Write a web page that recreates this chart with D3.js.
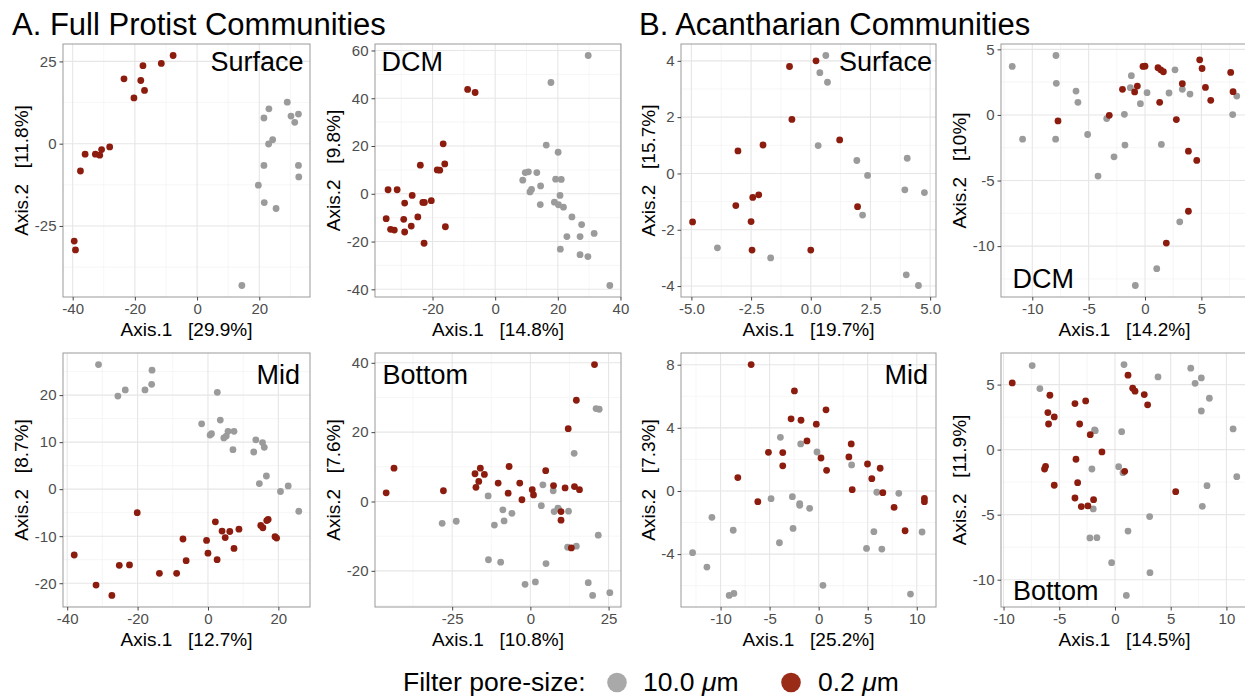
<!DOCTYPE html>
<html>
<head>
<meta charset="utf-8">
<script src="https://cdn.jsdelivr.net/npm/d3@7"></script>
<style>
  html, body { margin: 0; padding: 0; background: #ffffff; }
  svg { display: block; font-family: "Liberation Sans", Arial, Helvetica, sans-serif; }
  text { white-space: pre; }
</style>
</head>
<body>
<svg id="chart" width="1245" height="698"></svg>
<script>
// ---- PCoA coordinates: [Axis.1, Axis.2] per sample ----
// A. Full protist communities
const protSurface10 = [[29.0,12.6],[23.1,10.6],[32.6,9.0],[30.2,8.4],[21.5,7.8],[31.4,6.5],[24.3,1.2],[23.0,-0.1],[21.5,-6.6],[32.6,-6.6],[32.7,-10.1],[19.7,-12.6],[21.6,-17.9],[25.4,-19.7],[14.4,-43.1]];
const protSurface02 = [[-7.7,26.8],[-11.5,24.4],[-17.4,23.7],[-18.1,19.2],[-23.5,19.7],[-16.9,16.2],[-20.3,13.9],[-28.1,-1.0],[-30.7,-1.8],[-31.3,-3.5],[-32.7,-3.2],[-36.0,-3.2],[-37.5,-8.3],[-39.5,-29.6],[-39.1,-32.3]];

const protDCM10 = [[29.7,57.9],[17.8,46.6],[16.3,20.4],[20.1,17.4],[9.6,8.9],[10.6,9.2],[13.3,8.9],[8.8,5.7],[19.3,6.1],[21.1,6.0],[11.6,1.8],[11.1,0.8],[14.5,3.3],[20.7,-0.7],[14.4,-4.5],[18.9,-3.5],[20.2,-4.6],[21.8,-5.6],[24.5,-9.7],[27.6,-12.9],[31.6,-16.6],[22.9,-17.9],[27.1,-17.9],[20.8,-23.2],[27.1,-25.5],[29.6,-26.3],[36.6,-38.4]];
const protDCM02 = [[-8.8,43.7],[-6.4,42.4],[-16.6,20.9],[-23.9,12.0],[-16.1,12.5],[-18.5,10.0],[-17.7,9.9],[-34.2,1.7],[-31.3,1.7],[-26.5,-0.7],[-20.4,-2.9],[-23.1,-3.6],[-22.6,-3.6],[-28.9,-3.9],[-24.7,-9.7],[-34.8,-10.4],[-29.2,-10.7],[-26.8,-13.5],[-15.9,-13.8],[-33.4,-14.9],[-32.2,-15.2],[-28.9,-16.0],[-22.7,-20.7]];

const protMid10 = [[-31.1,26.5],[-15.9,25.3],[-16.0,22.3],[-23.5,21.1],[-17.9,21.1],[-25.6,19.8],[2.65,20.6],[3.5,14.7],[-1.8,13.9],[1.0,11.8],[0.6,11.5],[5.7,12.3],[7.4,12.3],[5.2,11.3],[4.5,10.9],[7.1,8.4],[13.6,10.5],[15.5,9.9],[16.0,8.9],[13.0,7.9],[16.6,2.8],[14.6,1.2],[22.8,0.7],[20.6,-0.5],[25.8,-4.7]];
const protMid02 = [[-20.1,-5.0],[2.1,-6.95],[4.0,-8.9],[6.2,-9.0],[8.8,-8.5],[17.1,-6.45],[16.7,-6.67],[15.0,-7.7],[15.6,-8.2],[4.9,-10.3],[-0.4,-10.9],[-7.1,-10.6],[19.05,-10.1],[19.5,-10.4],[0.0,-13.6],[7.4,-12.6],[-6.2,-15.2],[2.6,-15.0],[-38.0,-14.0],[-25.2,-16.2],[-22.3,-16.1],[-13.8,-17.9],[-8.9,-17.9],[-31.8,-20.4],[-27.3,-22.6]];

const protBottom10 = [[21.0,26.8],[22.0,26.6],[14.0,13.9],[4.0,4.8],[7.3,3.1],[-13.5,1.6],[3.5,-1.2],[-8.8,-2.4],[-5.9,-3.4],[-8.4,-5.6],[-11.5,-6.8],[-28.2,-6.3],[-23.7,-5.7],[7.6,-2.9],[8.8,-1.9],[9.0,-2.1],[12.2,-2.8],[11.9,-13.2],[14.7,-12.9],[21.7,-9.7],[-13.4,-16.8],[-9.5,-17.5],[5.0,-17.9],[1.6,-23.2],[-1.7,-23.9],[18.5,-23.4],[19.9,-27.1],[25.4,-26.3]];
const protBottom02 = [[20.5,39.5],[14.7,29.2],[12.1,21.0],[-43.6,9.6],[-46.1,2.5],[-27.8,3.1],[-16.0,9.6],[-17.7,8.0],[-14.7,7.8],[-16.5,5.8],[-17.4,4.1],[-6.8,10.1],[-10.3,5.3],[-7.1,2.4],[-3.4,5.3],[-2.7,0.5],[0.6,3.4],[1.0,1.9],[4.9,8.9],[7.4,4.6],[11.1,3.9],[14.1,4.3],[15.7,3.4],[9.8,-2.9],[9.8,-5.4],[13.1,-13.4]];

// B. Acantharian communities
const acanSurface10 = [[0.63,4.19],[0.38,3.58],[0.7,3.24],[0.31,0.99],[1.93,0.46],[4.04,0.54],[2.38,-0.07],[3.94,-0.58],[4.76,-0.68],[2.17,-1.48],[-3.91,-2.64],[-1.68,-3.0],[4.0,-3.6],[4.51,-3.98]];
const acanSurface02 = [[0.22,4.0],[-0.89,3.8],[-0.79,1.92],[1.21,1.19],[-2.0,1.01],[-3.05,0.8],[-2.18,-0.76],[-2.43,-0.85],[-3.14,-1.14],[1.96,-1.18],[-4.95,-1.72],[-2.5,-1.71],[-2.46,-2.72],[0.0,-2.72]];

const acanDCM10 = [[-11.78,3.7],[-7.9,4.53],[-7.87,2.41],[-1.21,2.99],[2.66,3.44],[-1.3,2.08],[-6.12,1.82],[-5.95,0.96],[0.18,1.7],[2.13,1.67],[3.31,1.95],[3.99,1.59],[-0.41,0.86],[8.14,1.44],[-1.83,0.05],[-3.4,-0.28],[7.78,0.03],[-10.86,-1.85],[-7.93,-1.85],[-5.09,-1.49],[-1.78,-2.3],[1.45,-2.25],[-2.75,-3.19],[-4.17,-4.66],[3.08,-8.15],[1.04,-11.72],[-0.86,-13.0]];
const acanDCM02 = [[4.85,4.2],[0.0,3.72],[-0.18,3.7],[1.15,3.6],[1.39,3.44],[1.63,3.29],[5.06,3.54],[7.6,3.24],[3.31,2.38],[-0.68,2.2],[5.36,2.1],[-2.0,1.95],[-0.92,1.75],[7.81,1.77],[5.83,1.11],[1.3,0.96],[-3.17,-0.03],[-7.72,-0.46],[2.78,-0.35],[3.85,-2.76],[4.59,-3.47],[3.85,-7.34],[1.89,-9.77]];

const acanMid10 = [[-3.9,3.4],[-1.83,2.98],[-0.17,2.47],[3.36,1.65],[-4.85,-0.49],[-2.68,-0.36],[-1.93,-0.8],[-1.93,-0.91],[-0.92,-1.1],[-10.88,-1.67],[-8.71,-2.49],[-2.61,-2.37],[-4.0,-3.28],[5.93,-0.08],[8.17,-0.15],[5.63,-2.58],[10.54,-2.6],[4.88,-3.64],[6.44,-3.68],[-12.85,-3.91],[-11.39,-4.82],[-9.12,-6.62],[-8.64,-6.49],[0.44,-5.98],[9.36,-6.53]];
const acanMid02 = [[-6.88,8.01],[-2.47,6.34],[-2.81,4.57],[-1.8,4.48],[0.75,5.14],[-0.24,4.23],[-1.19,3.17],[-5.12,2.45],[-3.66,2.43],[-3.66,1.59],[0.24,2.09],[0.81,1.31],[3.32,2.98],[3.08,2.16],[4.98,1.71],[6.27,1.44],[5.42,0.78],[3.42,0.08],[6.54,-0.11],[-8.24,0.85],[-6.2,-0.68],[10.78,-0.47],[10.78,-0.68],[7.69,-1.04],[8.81,-2.52]];

const acanBottom10 = [[-7.43,6.46],[-6.74,4.69],[0.81,6.54],[3.86,5.59],[6.8,6.26],[7.75,5.51],[7.19,5.1],[8.47,3.95],[7.75,2.97],[10.6,1.59],[10.93,-2.08],[-1.83,1.51],[-1.77,1.46],[0.6,1.38],[-2.07,-1.49],[0.33,-1.31],[0.72,-1.77],[8.26,-2.77],[7.84,-4.36],[-1.95,-4.56],[3.11,-5.15],[1.17,-6.26],[-2.25,-6.79],[-1.62,-6.77],[-0.3,-8.69],[3.14,-9.46],[1.02,-11.21]];
const acanBottom02 = [[-9.22,5.13],[1.17,5.72],[-5.84,4.18],[1.59,4.72],[1.8,4.49],[2.63,4.23],[2.93,3.44],[-2.63,3.74],[-3.59,3.54],[-6.02,2.85],[-5.45,2.51],[-5.96,1.97],[-3.17,1.97],[-2.22,1.15],[-1.17,-0.18],[-3.5,-0.74],[-6.23,-1.28],[-6.32,-1.49],[0.87,-1.67],[-5.45,-2.74],[-3.35,-2.54],[-3.59,-3.72],[-1.92,-3.85],[-3.02,-4.38],[-2.43,-4.33],[5.45,-3.23]];

// ---- axis breaks ----
const protSurfaceXTicks = [-40, -20, 0, 20];
const protSurfaceYTicks = [-25, 0, 25];
const protDCMXTicks = [-20, 0, 20, 40];
const protDCMYTicks = [-40, -20, 0, 20, 40, 60];
const protMidXTicks = [-40, -20, 0, 20];
const protMidYTicks = [-20, -10, 0, 10, 20];
const protBottomXTicks = [-25, 0, 25];
const protBottomYTicks = [-20, 0, 20, 40];
const acanSurfaceXTicks = [-5, -2.5, 0, 2.5, 5];
const acanSurfaceYTicks = [-4, -2, 0, 2, 4];
const acanDCMXTicks = [-10, -5, 0, 5];
const acanDCMYTicks = [-10, -5, 0, 5];
const acanMidXTicks = [-10, -5, 0, 5, 10];
const acanMidYTicks = [-4, 0, 4, 8];
const acanBottomXTicks = [-10, -5, 0, 5, 10];
const acanBottomYTicks = [-10, -5, 0, 5];

// ---- axis titles (variance explained) ----
const xTitles = ["Axis.1   [29.9%]", "Axis.1   [14.8%]", "Axis.1   [19.7%]", "Axis.1   [14.2%]",
                 "Axis.1   [12.7%]", "Axis.1   [10.8%]", "Axis.1   [25.2%]", "Axis.1   [14.5%]"];
const yTitles = ["Axis.2   [11.8%]", "Axis.2   [9.8%]", "Axis.2   [15.7%]", "Axis.2   [10%]",
                 "Axis.2   [8.7%]", "Axis.2   [7.6%]", "Axis.2   [7.3%]", "Axis.2   [11.9%]"];
const depthLabels = ["Surface", "DCM", "Surface", "DCM", "Mid", "Bottom", "Mid", "Bottom"];
const sectionTitles = ["A. Full Protist Communities", "B. Acantharian Communities"];
const legendTitle = "Filter pore-size:";
const poreSizes = ["10.0", "0.2"];

// ---- styling ----
const COL_LARGE = "#9b9b9b", COL_SMALL = "#8c1c0e";
const LEG_LARGE = "#a9a9a9", LEG_SMALL = "#9a2b17";

const colLeft = [63, 375, 681, 1001], colRight = [310, 621, 936, 1248];
const rowTop = [44, 353], rowBottom = [297, 607];

// label placement: corner + inset
const labelPlace = [
  {corner: "tr", dx: -6.5, dy: 27}, {corner: "tl", dx: 6.5, dy: 27},
  {corner: "tr", dx: -4, dy: 27},   {corner: "bl", dx: 11.5, dy: -9.5},
  {corner: "tr", dx: -10, dy: 30.5},{corner: "tl", dx: 7.5, dy: 30.5},
  {corner: "tr", dx: -8, dy: 30.5}, {corner: "bl", dx: 12, dy: -7.5}
];

const panels = [
  {large: protSurface10, small: protSurface02, xt: protSurfaceXTicks, yt: protSurfaceYTicks},
  {large: protDCM10, small: protDCM02, xt: protDCMXTicks, yt: protDCMYTicks},
  {large: acanSurface10, small: acanSurface02, xt: acanSurfaceXTicks, yt: acanSurfaceYTicks},
  {large: acanDCM10, small: acanDCM02, xt: acanDCMXTicks, yt: acanDCMYTicks},
  {large: protMid10, small: protMid02, xt: protMidXTicks, yt: protMidYTicks},
  {large: protBottom10, small: protBottom02, xt: protBottomXTicks, yt: protBottomYTicks},
  {large: acanMid10, small: acanMid02, xt: acanMidXTicks, yt: acanMidYTicks},
  {large: acanBottom10, small: acanBottom02, xt: acanBottomXTicks, yt: acanBottomYTicks}
];

const svg = d3.select("#chart");

// ggplot-like 5% expansion of the data range
function expanded(vals) {
  const [lo, hi] = d3.extent(vals);
  const pad = (hi - lo) * 0.05;
  return [lo - pad, hi + pad];
}
function fmtFor(ticks) {
  const allInt = ticks.every(t => Number.isInteger(t));
  return v => allInt ? String(v) : v.toFixed(1);
}
function minorBreaks(ticks, domain) {
  const step = ticks[1] - ticks[0];
  const out = [];
  for (let v = ticks[0] - step / 2; v <= ticks[ticks.length - 1] + step / 2 + 1e-9; v += step) {
    if (v >= domain[0] && v <= domain[1]) out.push(v);
  }
  return out;
}

panels.forEach((p, i) => {
  const col = i % 4, row = Math.floor(i / 4);
  const L = colLeft[col], R = colRight[col], T = rowTop[row], B = rowBottom[row];
  const all = p.large.concat(p.small);
  const x = d3.scaleLinear().domain(expanded(all.map(d => d[0]))).range([L, R]);
  const y = d3.scaleLinear().domain(expanded(all.map(d => d[1]))).range([B, T]);

  const g = svg.append("g");
  const clipId = "clip" + i;
  g.append("clipPath").attr("id", clipId)
    .append("rect").attr("x", L).attr("y", T).attr("width", R - L).attr("height", B - T);

  const grid = g.append("g").attr("clip-path", `url(#${clipId})`);
  // minor grid
  grid.selectAll(".mx").data(minorBreaks(p.xt, x.domain())).join("line")
    .attr("x1", d => x(d)).attr("x2", d => x(d)).attr("y1", T).attr("y2", B)
    .attr("stroke", "#f0f0f0").attr("stroke-width", 0.6);
  grid.selectAll(".my").data(minorBreaks(p.yt, y.domain())).join("line")
    .attr("y1", d => y(d)).attr("y2", d => y(d)).attr("x1", L).attr("x2", R)
    .attr("stroke", "#f0f0f0").attr("stroke-width", 0.6);
  // major grid
  grid.selectAll(".Mx").data(p.xt).join("line")
    .attr("x1", d => x(d)).attr("x2", d => x(d)).attr("y1", T).attr("y2", B)
    .attr("stroke", "#e6e6e6").attr("stroke-width", 1.1);
  grid.selectAll(".My").data(p.yt).join("line")
    .attr("y1", d => y(d)).attr("y2", d => y(d)).attr("x1", L).attr("x2", R)
    .attr("stroke", "#e6e6e6").attr("stroke-width", 1.1);

  // points: 10 µm fraction, then 0.2 µm fraction
  const pts = g.append("g").attr("clip-path", `url(#${clipId})`);
  pts.selectAll(".lg").data(p.large).join("circle")
    .attr("cx", d => x(d[0])).attr("cy", d => y(d[1])).attr("r", 3.4).attr("fill", COL_LARGE);
  pts.selectAll(".sm").data(p.small).join("circle")
    .attr("cx", d => x(d[0])).attr("cy", d => y(d[1])).attr("r", 3.4).attr("fill", COL_SMALL);

  // panel border
  g.append("rect").attr("x", L).attr("y", T).attr("width", R - L).attr("height", B - T)
    .attr("fill", "none").attr("stroke", "#999999").attr("stroke-width", 1);

  // axes
  const fx = fmtFor(p.xt), fy = fmtFor(p.yt);
  const xa = g.append("g").attr("transform", `translate(0,${B})`)
    .call(d3.axisBottom(x).tickValues(p.xt).tickFormat(fx).tickSize(3.5).tickPadding(3));
  const ya = g.append("g").attr("transform", `translate(${L},0)`)
    .call(d3.axisLeft(y).tickValues(p.yt).tickFormat(fy).tickSize(3.5).tickPadding(3));
  [xa, ya].forEach(a => {
    a.select(".domain").remove();
    a.selectAll(".tick line").attr("stroke", "#444");
    a.selectAll(".tick text").attr("fill", "#4d4d4d").style("font-size", "15px")
      .style("font-family", '"Liberation Sans", Arial, Helvetica, sans-serif');
  });

  // axis titles
  g.append("text").attr("x", (L + R) / 2).attr("y", B + 39)
    .attr("text-anchor", "middle").style("font-size", "19px").attr("fill", "#000")
    .text(xTitles[i]);
  const yw = ya.node().getBBox().width;
  const cx = L - yw - 13, cy = (T + B) / 2;
  g.append("text").attr("transform", `translate(${cx},${cy}) rotate(-90)`)
    .attr("text-anchor", "middle").attr("dy", "0.35em").style("font-size", "19px").attr("fill", "#000")
    .text(yTitles[i]);

  // depth label
  const lp = labelPlace[i];
  const lx = lp.corner === "tr" ? R + lp.dx : L + lp.dx;
  const ly = lp.corner === "bl" ? B + lp.dy : T + lp.dy;
  g.append("text").attr("x", lx).attr("y", ly)
    .attr("text-anchor", lp.corner === "tr" ? "end" : "start")
    .style("font-size", "27px").attr("fill", "#000").text(depthLabels[i]);
});

// section titles
svg.append("text").attr("x", 12).attr("y", 35).style("font-size", "31px").attr("fill", "#000").text(sectionTitles[0]);
svg.append("text").attr("x", 639).attr("y", 35).style("font-size", "31px").attr("fill", "#000").text(sectionTitles[1]);

// legend
const leg = svg.append("g");
leg.append("text").attr("x", 403).attr("y", 691).style("font-size", "26.5px").attr("fill", "#000").text(legendTitle);
const legItems = [
  {cx: 617, tx: 643, col: LEG_LARGE, lab: poreSizes[0]},
  {cx: 791, tx: 818, col: LEG_SMALL, lab: poreSizes[1]}
];
legItems.forEach(it => {
  leg.append("circle").attr("cx", it.cx).attr("cy", 682.5).attr("r", 9.8).attr("fill", it.col);
  const t = leg.append("text").attr("x", it.tx).attr("y", 691).style("font-size", "26.5px").attr("fill", "#000");
  t.append("tspan").text(it.lab + " ");
  t.append("tspan").style("font-style", "italic").text("\u03bc");
  t.append("tspan").text("m");
});
</script>
</body>
</html>
